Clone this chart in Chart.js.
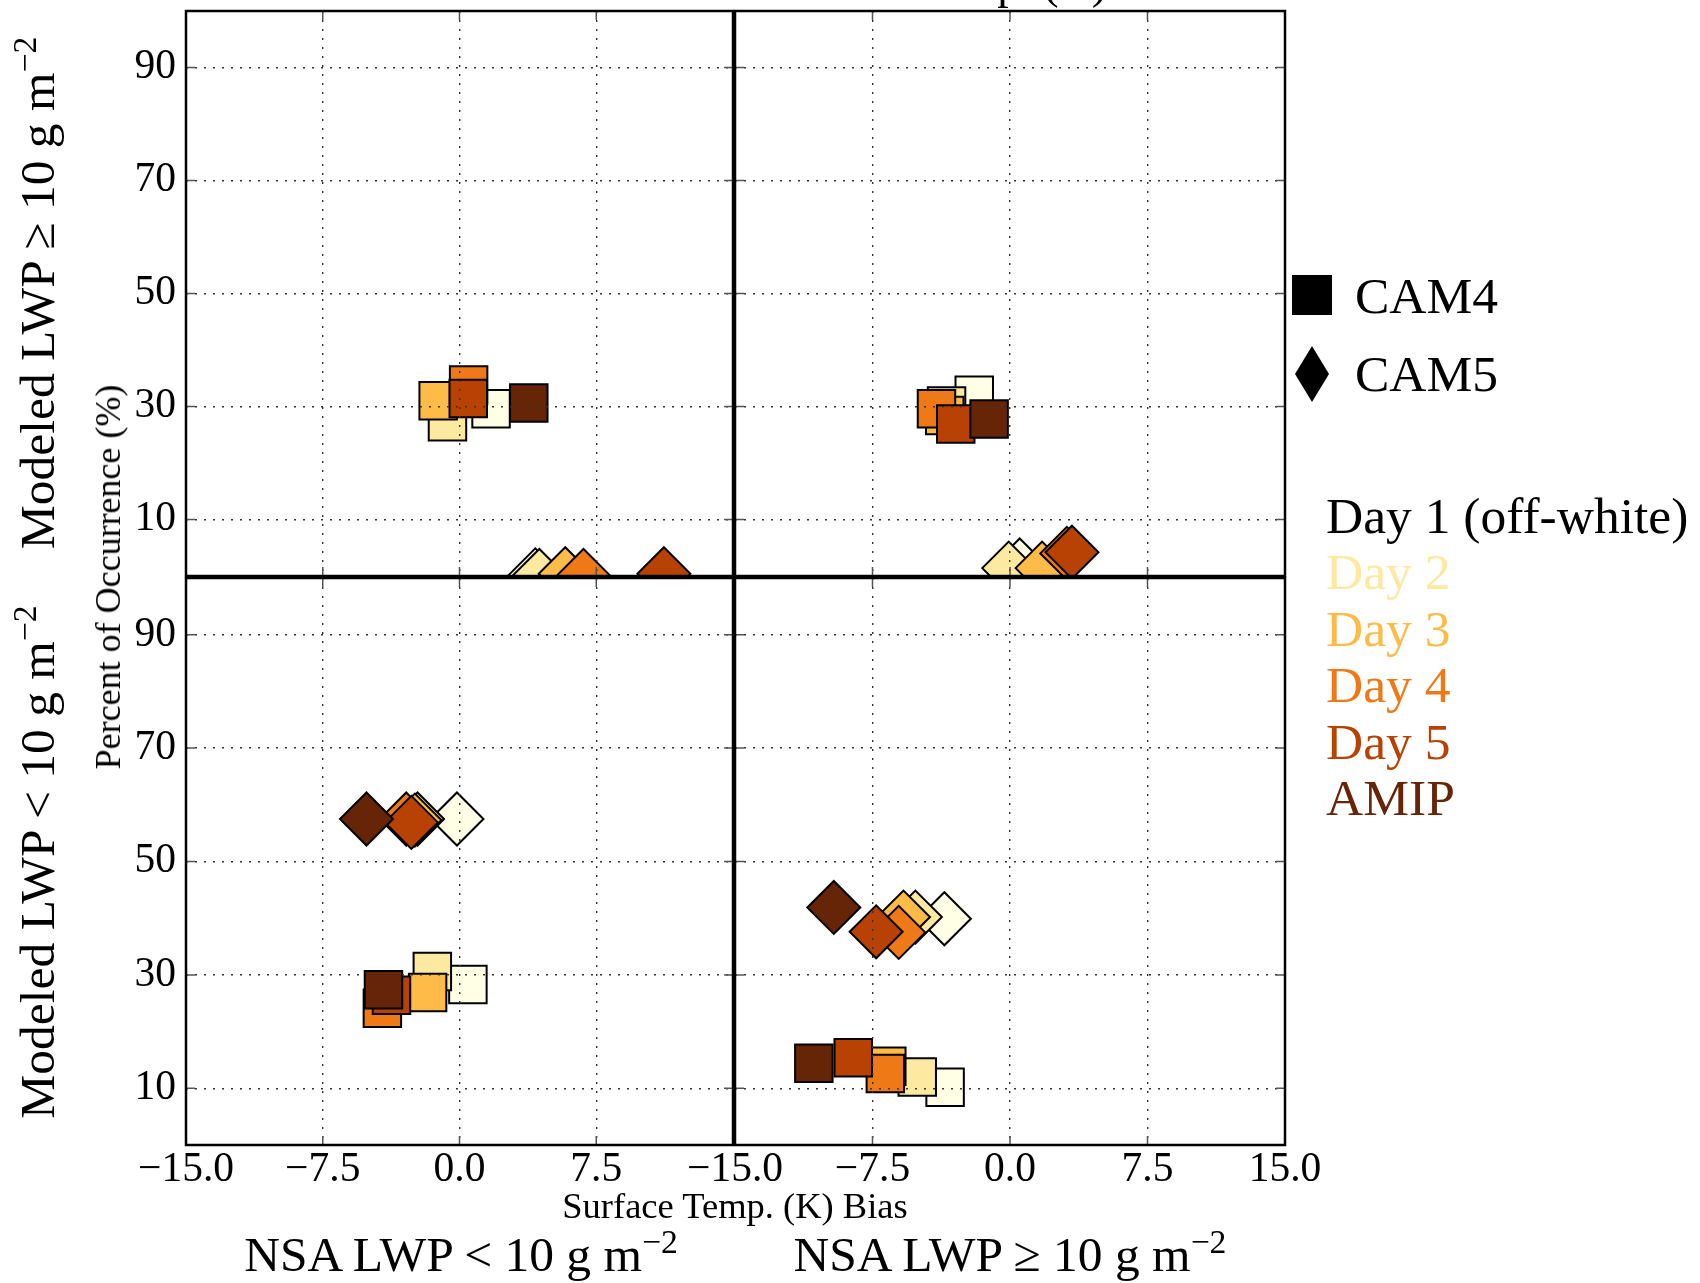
<!DOCTYPE html>
<html>
<head>
<meta charset="utf-8">
<title>Surface temperature bias by LWP regime</title>
<script src="https://cdn.jsdelivr.net/npm/chart.js@4.4.1/dist/chart.umd.min.js"></script>
<style>
    html, body { margin: 0; padding: 0; background: #fff; }
    #page { position: relative; width: 1700px; height: 1283px; overflow: hidden;
            font-family: 'Liberation Serif', 'Times New Roman', serif; color: #000; }
    #page canvas { position: absolute; left: 0; top: 0; }
    .lbl { position: absolute; white-space: nowrap; line-height: 1; }
    .rot { transform: translate(-50%, -50%) rotate(-90deg); }
    .ctr { transform: translateX(-50%); }
    .sup { font-size: 0.68em; position: relative; top: -0.55em; }
</style>
</head>
<body>
<div id="page">
    <canvas id="tl" width="1700" height="1283"></canvas>
    <canvas id="tr" width="1700" height="1283"></canvas>
    <canvas id="bl" width="1700" height="1283"></canvas>
    <canvas id="br" width="1700" height="1283"></canvas>

    <div class="lbl" style="right:593px; top:-40px; font-size:46px;">Surface Temp. (K)</div>

    <div class="lbl rot" style="left:38px; top:293px; font-size:49.5px;">Modeled LWP &#8805; 10 g m<span class="sup">&#8722;2</span></div>
    <div class="lbl rot" style="left:38px; top:862px; font-size:49.5px;">Modeled LWP &lt; 10 g m<span class="sup">&#8722;2</span></div>
    <div class="lbl rot" style="left:108px; top:577px; font-size:36px;">Percent of Occurrence (%)</div>

    <div class="lbl ctr" style="left:735px; top:1188px; font-size:36.5px;">Surface Temp. (K) Bias</div>
    <div class="lbl ctr" style="left:461px; top:1230px; font-size:49.5px;">NSA LWP &lt; 10 g m<span class="sup">&#8722;2</span></div>
    <div class="lbl ctr" style="left:1010px; top:1230px; font-size:49.5px;">NSA LWP &#8805; 10 g m<span class="sup">&#8722;2</span></div>

    <div style="position:absolute; left:1292px; top:275px; width:40px; height:40px; background:#000;"></div>
    <svg style="position:absolute; left:1294px; top:346px;" width="36" height="56">
        <polygon points="18,0 35,28 18,56 1,28" fill="#000"></polygon>
    </svg>
    <div class="lbl" style="left:1355px; top:270px; font-size:51.5px;">CAM4</div>
    <div class="lbl" style="left:1355px; top:348px; font-size:51.5px;">CAM5</div>
    <div id="dayLegend"></div>
</div>

<script>
// axis ticks
const xTickValues = [-15, -7.5, 0, 7.5, 15];
const yTickValues = [10, 30, 50, 70, 90];

// runs (same order in every series below)
const days = ['Day 1 (off-white)', 'Day 2', 'Day 3', 'Day 4', 'Day 5', 'AMIP'];
const dayColors = ['#ffffe5', '#fee9a0', '#febb47', '#ef7817', '#b74203', '#662506'];
const dayTextColors = ['#000000', '#fee9a0', '#febb47', '#ef7817', '#b74203', '#662506'];

// modeled LWP >= 10, NSA LWP < 10  (top left)
const cam4HiLoX = [1.73, -0.66, -1.17, 0.50, 0.48, 3.80];
const cam4HiLoY = [29.6, 27.3, 31.0, 33.8, 31.4, 30.6];
const cam5HiLoX = [4.16, 4.38, 5.80, 6.80, 11.21, null];
const cam5HiLoY = [0.2, 0.1, 0.4, 0.1, 0.4, null];

// modeled LWP >= 10, NSA LWP >= 10  (top right)
const cam4HiHiX = [-1.95, -3.46, -3.56, -4.01, -2.96, -1.14];
const cam4HiHiY = [32.0, 30.1, 28.4, 29.6, 26.9, 27.8];
const cam5HiHiX = [0.53, -0.07, 1.75, 3.10, 3.38, null];
const cam5HiHiY = [1.95, 1.4, 1.4, 4.0, 4.2, null];

// modeled LWP < 10, NSA LWP < 10  (bottom left)
const cam4LoLoX = [0.46, -1.49, -1.75, -4.23, -3.73, -4.17];
const cam4LoLoY = [28.3, 30.6, 26.9, 24.1, 26.4, 27.4];
const cam5LoLoX = [-0.14, -2.30, -2.45, -2.92, -2.64, -5.10];
const cam5LoLoY = [57.5, 57.5, 57.3, 57.5, 56.9, 57.5];

// modeled LWP < 10, NSA LWP >= 10  (bottom right)
const cam4LoHiX = [-3.54, -5.06, -6.72, -6.80, -8.55, -10.70];
const cam4LoHiY = [10.2, 12.0, 13.9, 12.6, 15.4, 14.4];
const cam5LoHiX = [-3.58, -5.16, -5.81, -6.07, -7.30, -9.61];
const cam5LoHiY = [39.9, 40.2, 40.2, 37.5, 37.6, 41.9];

const PAGE_W = 1700;
const PAGE_H = 1283;
const Y_AXIS_W = 70;
const X_AXIS_H = 60;
const tickFont = { family: "'Liberation Serif', serif", size: 41.5 };

// black frame + short inward ticks on all four sides
const framePlugin = {
    id: 'frame',
    afterDraw(chart) {
        const { ctx, chartArea: a, scales } = chart;
        ctx.save();
        ctx.strokeStyle = '#555';
        ctx.lineWidth = 1.5;
        ctx.beginPath();
        scales.x.ticks.forEach(t => {
            const px = scales.x.getPixelForValue(t.value);
            ctx.moveTo(px, a.top); ctx.lineTo(px, a.top + 9);
            ctx.moveTo(px, a.bottom); ctx.lineTo(px, a.bottom - 9);
        });
        scales.y.ticks.forEach(t => {
            const py = scales.y.getPixelForValue(t.value);
            ctx.moveTo(a.left, py); ctx.lineTo(a.left + 9, py);
            ctx.moveTo(a.right, py); ctx.lineTo(a.right - 9, py);
        });
        ctx.stroke();
        ctx.strokeStyle = '#000';
        ctx.lineWidth = 2.5;
        ctx.strokeRect(a.left, a.top, a.right - a.left, a.bottom - a.top);
        ctx.restore();
    }
};

function pointsFrom(xs, ys) {
    const pts = [];
    const cols = [];
    xs.forEach((x, i) => {
        if (x === null) return;
        pts.push({ x: x, y: ys[i] });
        cols.push(dayColors[i]);
    });
    return { pts, cols };
}

function markerSet(label, xs, ys, style) {
    const d = pointsFrom(xs, ys);
    return {
        label: label,
        data: d.pts,
        pointStyle: style,
        pointRadius: 26.5,
        pointBackgroundColor: d.cols,
        pointBorderColor: '#000',
        pointBorderWidth: 2,
        showLine: false,
        clip: 0
    };
}

function buildPanel(id, area, showX, showY, hideXMax, cam4X, cam4Y, cam5X, cam5Y) {
    const ctx = document.getElementById(id).getContext('2d');
    return new Chart(ctx, {
        type: 'scatter',
        data: {
            datasets: [
                markerSet('CAM4', cam4X, cam4Y, 'rect'),
                markerSet('CAM5', cam5X, cam5Y, 'rectRot')
            ]
        },
        options: {
            responsive: false,
            devicePixelRatio: 1,
            animation: false,
            events: [],
            layout: {
                autoPadding: false,
                padding: {
                    left: area.left - (showY ? Y_AXIS_W : 0),
                    top: area.top,
                    right: PAGE_W - area.right,
                    bottom: PAGE_H - area.bottom - (showX ? X_AXIS_H : 0)
                }
            },
            plugins: {
                legend: { display: false },
                tooltip: { enabled: false }
            },
            scales: {
                x: {
                    type: 'linear',
                    position: 'bottom',
                    min: -15,
                    max: 15,
                    afterBuildTicks: s => { s.ticks = xTickValues.map(v => ({ value: v })); },
                    afterFit: s => {
                        s.height = showX ? X_AXIS_H : 0;
                        s.paddingLeft = 0;
                        s.paddingRight = 0;
                    },
                    grid: { color: '#333', lineWidth: 1.4, drawTicks: false, z: 1 },
                    border: { display: false, dash: [2, 7] },
                    ticks: {
                        display: showX,
                        padding: 0,
                        maxRotation: 0,
                        color: '#000',
                        font: tickFont,
                        callback: v => (hideXMax && v === 15) ? '' :
                            (v < 0 ? '\u2212' : '') + Math.abs(v).toFixed(1)
                    }
                },
                y: {
                    type: 'linear',
                    position: 'left',
                    min: 0,
                    max: 100,
                    afterBuildTicks: s => { s.ticks = yTickValues.map(v => ({ value: v })); },
                    afterFit: s => {
                        s.width = showY ? Y_AXIS_W : 0;
                        s.paddingTop = 0;
                        s.paddingBottom = 0;
                    },
                    grid: { color: '#333', lineWidth: 1.4, drawTicks: false, z: 1 },
                    border: { display: false, dash: [2, 7] },
                    ticks: {
                        display: showY,
                        padding: 10,
                        color: '#000',
                        font: tickFont,
                        callback: v => String(v)
                    }
                }
            }
        },
        plugins: [framePlugin]
    });
}

buildPanel('tl', { left: 186, top: 11, right: 733, bottom: 576 }, false, true, true,
    cam4HiLoX, cam4HiLoY, cam5HiLoX, cam5HiLoY);
buildPanel('tr', { left: 735, top: 11, right: 1285, bottom: 576 }, false, false, false,
    cam4HiHiX, cam4HiHiY, cam5HiHiX, cam5HiHiY);
buildPanel('bl', { left: 186, top: 578, right: 733, bottom: 1145 }, true, true, true,
    cam4LoLoX, cam4LoLoY, cam5LoLoX, cam5LoLoY);
buildPanel('br', { left: 735, top: 578, right: 1285, bottom: 1145 }, true, false, false,
    cam4LoHiX, cam4LoHiY, cam5LoHiX, cam5LoHiY);

// colour key for the runs
const legendBox = document.getElementById('dayLegend');
days.forEach((name, i) => {
    const el = document.createElement('div');
    el.className = 'lbl';
    el.style.left = '1326px';
    el.style.top = (490 + i * 56.4) + 'px';
    el.style.fontSize = '51.5px';
    el.style.color = dayTextColors[i];
    el.textContent = name;
    legendBox.appendChild(el);
});
</script>
</body>
</html>
